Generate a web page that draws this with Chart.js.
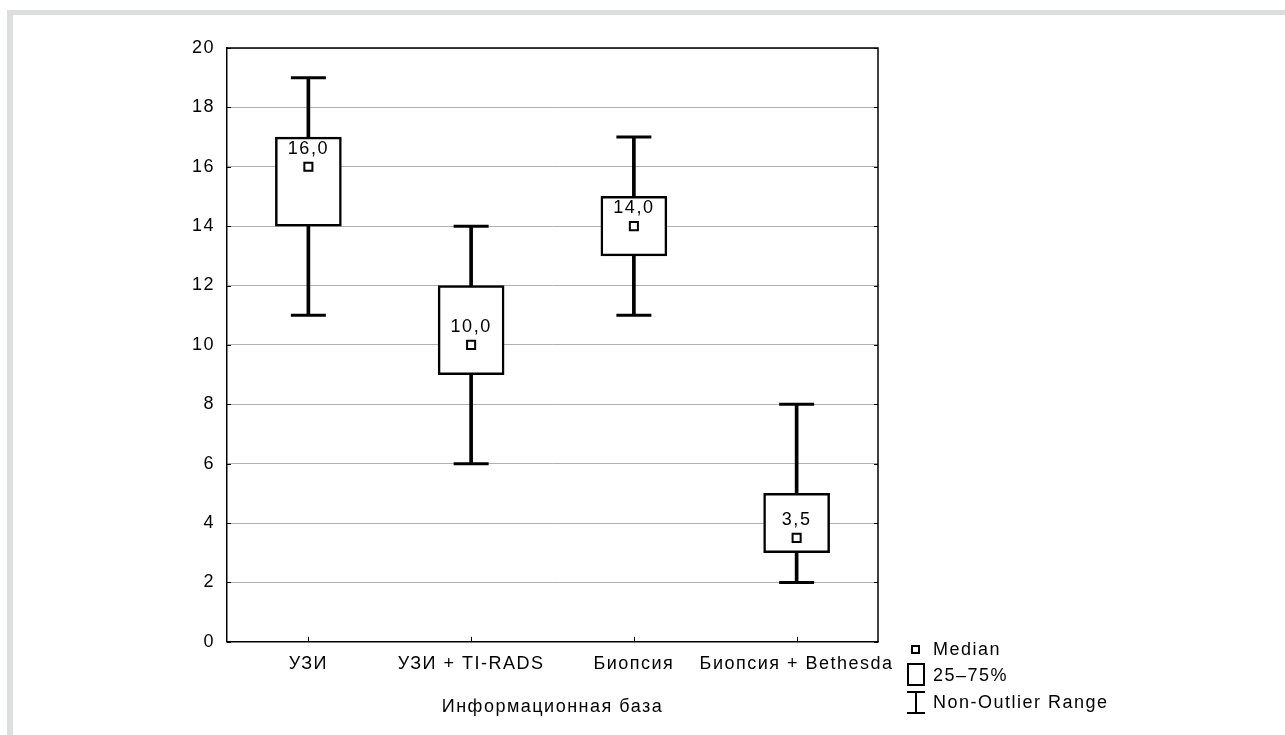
<!DOCTYPE html>
<html>
<head>
<meta charset="utf-8">
<script src="https://cdn.jsdelivr.net/npm/chart.js@4.4.1/dist/chart.umd.min.js"></script>
<style>
  html, body { margin: 0; padding: 0; background: #fff; }
  #wrap { position: relative; width: 1285px; height: 735px; overflow: hidden; }
  #frame { position: absolute; left: 7px; top: 10px; width: 1290px; height: 740px;
           border-top: 5px solid #dcdfde; border-left: 6px solid #dcdfde; box-sizing: border-box; }
  canvas { position: absolute; left: 0; top: 0; }
</style>
</head>
<body>
<div id="wrap">
  <div id="frame"></div>
  <canvas id="c" width="1285" height="735"></canvas>
</div>
<script>
// ---- data ----
const categories = ["УЗИ", "УЗИ + TI-RADS", "Биопсия", "Биопсия + Bethesda"];
const minValues    = [11, 6, 11, 2];
const q1Values     = [14, 9, 13, 3];
const medianValues = [16, 10, 14, 3.5];
const q3Values     = [17, 12, 15, 5];
const maxValues    = [19, 14, 17, 8];
const yTicks = [0, 2, 4, 6, 8, 10, 12, 14, 16, 18, 20];
const xTitle = "Информационная база";
const legendLabels = ["Median", "25–75%", "Non-Outlier Range"];

const FONT = "'Liberation Sans', Arial, sans-serif";
const FS = 18;
const LS = '1.5px';

const boxData = categories.map((c, i) => [q1Values[i], q3Values[i]]);
const whiskerData = categories.map((c, i) => [minValues[i], maxValues[i]]);
const capMin = categories.map((c, i) => ({ x: c, y: minValues[i] }));
const capMax = categories.map((c, i) => ({ x: c, y: maxValues[i] }));

const spacing = {
  id: 'spacing',
  beforeInit(chart) { chart.ctx.letterSpacing = LS; },
  beforeUpdate(chart) { chart.ctx.letterSpacing = LS; },
  beforeDraw(chart) { chart.ctx.letterSpacing = LS; }
};

const decor = {
  id: 'decor',
  afterDraw(chart) {
    const ctx = chart.ctx;
    const a = chart.chartArea;
    const xs = chart.scales.x, ys = chart.scales.y;
    ctx.save();
    ctx.letterSpacing = LS;
    // frame top & right
    ctx.strokeStyle = '#000';
    ctx.lineWidth = 1.5;
    ctx.beginPath();
    ctx.moveTo(a.left, a.top); ctx.lineTo(a.right, a.top); ctx.lineTo(a.right, a.bottom);
    ctx.stroke();
    // inward ticks
    ctx.lineWidth = 1;
    ctx.beginPath();
    yTicks.forEach(v => {
      const y = Math.round(ys.getPixelForValue(v)) + 0.5;
      ctx.moveTo(a.left, y); ctx.lineTo(a.left + 4, y);
      ctx.moveTo(a.right, y); ctx.lineTo(a.right - 4, y);
    });
    categories.forEach((c, i) => {
      const x = Math.round(xs.getPixelForTick(i)) + 0.5;
      ctx.moveTo(x, a.bottom); ctx.lineTo(x, a.bottom - 5);
    });
    ctx.stroke();
    // median labels
    ctx.fillStyle = '#000';
    ctx.font = FS + 'px ' + FONT;
    ctx.textAlign = 'center';
    ctx.textBaseline = 'middle';
    medianValues.forEach((m, i) => {
      const x = xs.getPixelForTick(i);
      const y = ys.getPixelForValue(m);
      ctx.fillText(m.toFixed(1).replace('.', ','), x, y - 18);
    });
    // legend
    ctx.lineWidth = 2;
    ctx.strokeStyle = '#000';
    ctx.fillStyle = '#fff';
    ctx.fillRect(912, 646, 7, 7);
    ctx.strokeRect(912, 646, 7, 7);
    ctx.strokeRect(908, 664, 16, 21);
    ctx.beginPath();
    ctx.moveTo(916, 692); ctx.lineTo(916, 713);
    ctx.moveTo(907, 692); ctx.lineTo(925, 692);
    ctx.moveTo(907, 713); ctx.lineTo(925, 713);
    ctx.stroke();
    ctx.fillStyle = '#000';
    ctx.textAlign = 'left';
    ctx.fillText(legendLabels[0], 933, 650);
    ctx.fillText(legendLabels[1], 933, 676);
    ctx.fillText(legendLabels[2], 933, 703);
    ctx.restore();
  }
};

new Chart(document.getElementById('c'), {
  type: 'bar',
  data: {
    labels: categories,
    datasets: [
      { type: 'line', data: medianValues, showLine: false, pointStyle: 'rect', pointRadius: 5.7,
        backgroundColor: '#fff', borderColor: '#000', borderWidth: 2, order: 0 },
      { type: 'line', data: capMin, showLine: false, pointStyle: 'line', pointRadius: 17.5,
        borderColor: '#000', borderWidth: 3, order: 1 },
      { type: 'line', data: capMax, showLine: false, pointStyle: 'line', pointRadius: 17.5,
        borderColor: '#000', borderWidth: 3, order: 1 },
      { type: 'bar', data: boxData, backgroundColor: '#fff', borderColor: '#000', borderWidth: 2.5,
        borderSkipped: false, barThickness: 66, grouped: false, order: 2 },
      { type: 'bar', data: whiskerData, backgroundColor: '#000', borderWidth: 0,
        barThickness: 3, grouped: false, order: 3 }
    ]
  },
  options: {
    responsive: false,
    animation: false,
    events: [],
    layout: { padding: { left: 167, right: 407, top: 48, bottom: 17 } },
    plugins: { legend: { display: false }, tooltip: { enabled: false } },
    scales: {
      x: {
        offset: true,
        grid: { display: false, drawTicks: false },
        border: { display: true, color: '#000', width: 1.5 },
        ticks: { color: '#000', font: { family: FONT, size: FS }, padding: 11, maxRotation: 0, autoSkip: false },
        title: { display: true, text: xTitle, color: '#000', font: { family: FONT, size: FS }, padding: { top: 11, bottom: 0 } }
      },
      y: {
        min: 0, max: 20,
        afterFit: s => { s.width = 60; },
        afterBuildTicks: s => { s.ticks = yTicks.map(v => ({ value: v })); },
        grid: { color: '#b0b0b0', lineWidth: 1, drawTicks: false },
        border: { display: true, color: '#000', width: 1.5 },
        ticks: { color: '#000', font: { family: FONT, size: FS }, padding: 12 }
      }
    }
  },
  plugins: [spacing, decor]
});
</script>
</body>
</html>
